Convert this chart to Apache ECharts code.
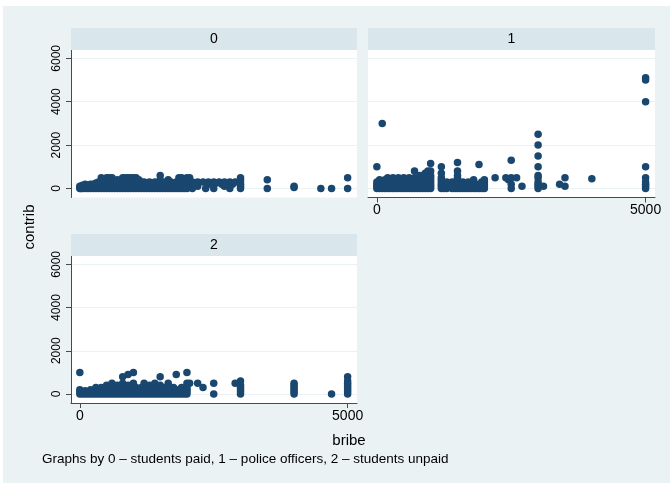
<!DOCTYPE html>
<html>
<head>
<meta charset="utf-8">
<script src="https://cdn.jsdelivr.net/npm/echarts@6/dist/echarts.min.js"></script>
<style>
html,body{margin:0;padding:0;background:#ffffff;}
#chart{width:670px;height:485px;}
</style>
</head>
<body>
<div id="chart"></div>
<script>
// ---- data ----
const panelLabels = ['0', '1', '2'];
const xTickValues = [0, 5000];
const yTickValues = [0, 2000, 4000, 6000];
const xTitle = 'bribe';
const yTitle = 'contrib';
const note = 'Graphs by 0 \u2013 students paid, 1 \u2013 police officers, 2 \u2013 students unpaid';

// group 0 – students paid: [bribe, contrib]
const group0 = [
  [0,0],[0,50],[0,100],[20,0],[30,100],[50,0],[50,50],[50,150],[80,50],[100,0],[100,100],[100,200],
  [120,50],[150,0],[150,100],[150,150],[180,50],[200,0],[200,100],[200,200],[220,150],[250,0],[250,100],
  [250,200],[280,50],[300,0],[300,100],[300,250],[350,0],[350,150],[350,300],[400,0],[400,100],[400,200],
  [400,300],[400,500],[450,0],[450,200],[450,400],[500,0],[500,100],[500,200],[500,300],[500,500],[550,0],
  [550,250],[550,500],[600,0],[600,100],[600,300],[600,500],[650,0],[650,200],[650,300],[700,0],[700,100],
  [700,200],[700,300],[700,400],[750,0],[750,150],[750,300],[800,0],[800,100],[800,200],[800,300],[800,500],
  [850,0],[850,200],[850,500],[900,0],[900,100],[900,300],[900,500],[950,0],[950,250],[950,500],[1000,0],
  [1000,100],[1000,200],[1000,300],[1000,400],[1000,500],[1050,0],[1050,300],[1050,500],[1100,0],[1100,200],
  [1100,400],[1150,0],[1150,300],[1200,0],[1200,100],[1200,200],[1200,300],[1250,0],[1250,200],[1300,0],
  [1300,100],[1300,300],[1350,0],[1350,200],[1400,0],[1400,100],[1400,300],[1450,0],[1450,200],[1500,0],
  [1500,100],[1500,200],[1500,300],[1500,400],[1500,600],[1550,0],[1550,250],[1600,0],[1600,100],[1600,300],
  [1650,0],[1650,200],[1650,400],[1700,0],[1700,300],[1750,0],[1750,200],[1800,0],[1800,100],[1800,300],
  [1850,0],[1850,500],[1900,0],[1900,200],[1900,500],[1950,0],[1950,300],[2000,0],[2000,100],[2000,200],
  [2000,300],[2000,400],[2000,500],[2050,500],[2100,0],[2100,300],[2200,100],[2200,300],[2300,300],[2350,0],
  [2400,200],[2400,300],[2500,0],[2500,300],[2550,250],[2600,300],[2650,200],[2700,100],[2700,300],[2800,0],
  [2800,300],[2850,200],[2900,300],[3000,0],[3000,100],[3000,200],[3000,300],[3000,400],[3000,500],
  [3500,0],[3500,400],[4000,50],[4000,100],[4500,0],[4700,0],[5000,0],[5000,500]
];

// group 1 – police officers
const group1 = [
  [0,0],[0,100],[0,200],[0,300],[0,1000],[20,50],[50,0],[50,200],[50,400],[100,0],[100,100],[100,300],
  [100,3000],[150,0],[150,200],[150,400],[200,0],[200,100],[200,300],[200,500],[250,0],[250,200],[250,400],
  [300,0],[300,100],[300,300],[300,500],[350,0],[350,200],[350,400],[400,0],[400,100],[400,300],[400,500],
  [450,0],[450,200],[450,400],[500,0],[500,100],[500,300],[500,500],[550,0],[550,200],[550,400],[600,0],
  [600,100],[600,300],[600,500],[650,0],[650,200],[650,400],[700,0],[700,100],[700,300],[700,500],[700,800],
  [750,0],[750,200],[750,400],[800,0],[800,100],[800,300],[800,500],[800,600],[850,0],[850,200],[850,400],
  [900,0],[900,100],[900,300],[900,500],[900,700],[950,0],[950,200],[950,400],[950,800],[1000,0],[1000,100],
  [1000,200],[1000,300],[1000,400],[1000,500],[1000,600],[1000,800],[1000,1150],
  [1200,0],[1200,100],[1200,200],[1200,300],[1200,400],[1200,500],[1200,700],[1200,1000],[1250,0],[1250,200],
  [1300,0],[1300,100],[1300,200],[1300,300],[1400,0],[1400,200],[1400,300],[1450,0],[1450,100],[1500,0],
  [1500,100],[1500,200],[1500,300],[1500,400],[1500,500],[1500,600],[1500,800],[1500,1200],[1550,0],
  [1550,200],[1600,0],[1600,100],[1600,300],[1650,0],[1650,200],[1700,0],[1700,100],[1700,300],[1750,0],
  [1750,200],[1800,0],[1800,100],[1800,300],[1800,400],[1850,0],[1850,200],[1900,0],[1900,100],[1900,1100],
  [1950,0],[1950,300],[2000,0],[2000,100],[2000,200],[2000,300],[2000,400],
  [2200,500],[2400,500],[2450,400],[2500,0],[2500,200],[2500,500],[2500,1300],[2600,500],[2700,100],
  [3000,0],[3000,100],[3000,200],[3000,300],[3000,500],[3000,600],[3000,1000],[3000,1500],[3000,2000],
  [3000,2500],[3100,100],[3400,200],[3500,100],[3500,500],[4000,450],
  [5000,0],[5000,100],[5000,200],[5000,300],[5000,500],[5000,1000],[5000,4000],[5000,5000],[5000,5100]
];

// group 2 – students unpaid
const group2 = [
  [0,0],[0,100],[0,200],[0,1000],[50,0],[50,100],[100,0],[100,150],[150,0],[150,100],[200,0],[200,200],
  [250,0],[250,100],[300,0],[300,200],[300,300],[350,0],[350,100],[400,0],[400,200],[400,300],[450,0],
  [450,100],[500,0],[500,200],[500,400],[550,0],[550,300],[600,0],[600,100],[600,200],[600,500],[650,0],
  [650,300],[700,0],[700,200],[700,400],[750,0],[750,100],[750,300],[800,0],[800,200],[800,500],[800,800],
  [850,0],[850,300],[900,0],[900,100],[900,400],[900,900],[950,0],[950,300],[1000,0],[1000,100],[1000,200],
  [1000,300],[1000,500],[1000,1000],[1050,0],[1050,300],[1100,0],[1100,200],[1150,0],[1150,300],[1200,0],
  [1200,100],[1200,200],[1200,500],[1250,0],[1250,300],[1300,0],[1300,100],[1300,400],[1350,0],[1350,200],
  [1400,0],[1400,300],[1400,500],[1450,0],[1450,200],[1500,0],[1500,100],[1500,200],[1500,300],[1500,400],
  [1500,800],[1550,0],[1550,200],[1600,0],[1600,100],[1600,300],[1650,0],[1650,500],[1700,0],[1700,200],
  [1750,0],[1750,300],[1800,0],[1800,200],[1800,900],[1850,0],[1850,100],[1900,0],[1900,300],[1950,0],
  [1950,200],[2000,0],[2000,100],[2000,200],[2000,300],[2000,500],[2000,1000],[2050,500],[2200,500],
  [2300,300],[2500,0],[2500,500],[2900,500],[3000,0],[3000,100],[3000,200],[3000,300],[3000,400],[3000,600],
  [4000,0],[4000,100],[4000,200],[4000,300],[4000,400],[4000,500],[4700,0],
  [5000,0],[5000,100],[5000,200],[5000,300],[5000,400],[5000,500],[5000,600],[5000,800]
];
const groups = [group0, group1, group2];

// ---- styling / layout ----
const FONT = '"Liberation Sans", Arial, Helvetica, sans-serif';
const NAVY = '#1a476f';
const BG = '#eaf2f3';
const STRIP = '#d9e6eb';
const AXIS = '#4a4a4a';
const GRIDLINE = '#eaf2f3';

const panels = [
  {left: 71,  top: 50, width: 286, height: 147.5, showX: false, showY: true},
  {left: 368, top: 50, width: 287, height: 147.5, showX: true,  showY: false},
  {left: 71,  top: 256, width: 286, height: 147, showX: true,  showY: true}
];
const stripH = 22;
const plain = v => String(v);

const grids = panels.map(p => ({
  left: p.left, top: p.top, width: p.width, height: p.height,
  show: true, backgroundColor: '#ffffff', borderWidth: 0
}));

const xAxes = panels.map((p, i) => ({
  type: 'value', gridIndex: i, min: -165, max: 5175,
  axisLine: {show: p.showX, onZero: false, lineStyle: {color: AXIS, width: 1}},
  axisTick: {show: p.showX, length: 5, lineStyle: {color: AXIS}, customValues: xTickValues},
  axisLabel: {show: p.showX, customValues: xTickValues, formatter: plain, color: '#000', fontFamily: FONT, fontSize: 14, margin: 6},
  splitLine: {show: false}
}));

const yAxes = panels.map((p, i) => ({
  type: 'value', gridIndex: i, min: -416, max: 6384,
  axisLine: {show: p.showY, onZero: false, lineStyle: {color: AXIS, width: 1}},
  axisTick: {show: p.showY, length: 5, lineStyle: {color: AXIS}, customValues: yTickValues},
  axisLabel: {show: p.showY, customValues: yTickValues, formatter: plain, rotate: 90, color: '#000', fontFamily: FONT, fontSize: 12, margin: 8},
  splitLine: {show: true, lineStyle: {color: GRIDLINE, width: 1.2}}
}));

const series = groups.map((g, i) => ({
  type: 'scatter', xAxisIndex: i, yAxisIndex: i, data: g,
  symbol: 'circle', symbolSize: 7.5, clip: false,
  itemStyle: {color: NAVY, opacity: 1},
  emphasis: {disabled: true}, silent: true
}));

const graphics = [
  {type: 'rect', shape: {x: 3, y: 6, width: 667, height: 477}, style: {fill: BG}, z: -10}
];
panels.forEach((p, i) => {
  graphics.push({type: 'rect', shape: {x: p.left, y: p.top - stripH, width: p.width, height: stripH}, style: {fill: STRIP}, z: 1});
  graphics.push({type: 'text', x: p.left + p.width / 2, y: p.top - stripH / 2, style: {text: panelLabels[i], fill: '#000', font: '14px ' + FONT, textAlign: 'center', textVerticalAlign: 'middle'}, z: 2});
});
graphics.push({type: 'text', x: 30, y: 227, rotation: Math.PI / 2, style: {text: yTitle, fill: '#000', font: '15px ' + FONT, textAlign: 'center', textVerticalAlign: 'middle'}, z: 2});
graphics.push({type: 'text', x: 349, y: 441, style: {text: xTitle, fill: '#000', font: '15px ' + FONT, textAlign: 'center', textVerticalAlign: 'middle'}, z: 2});
graphics.push({type: 'text', x: 42, y: 459, style: {text: note, fill: '#000', font: '13.5px ' + FONT, textAlign: 'left', textVerticalAlign: 'middle'}, z: 2});

const chart = echarts.init(document.getElementById('chart'), null, {renderer: 'canvas'});
chart.setOption({
  animation: false,
  backgroundColor: '#ffffff',
  graphic: graphics,
  grid: grids,
  xAxis: xAxes,
  yAxis: yAxes,
  series: series
});
</script>
</body>
</html>
